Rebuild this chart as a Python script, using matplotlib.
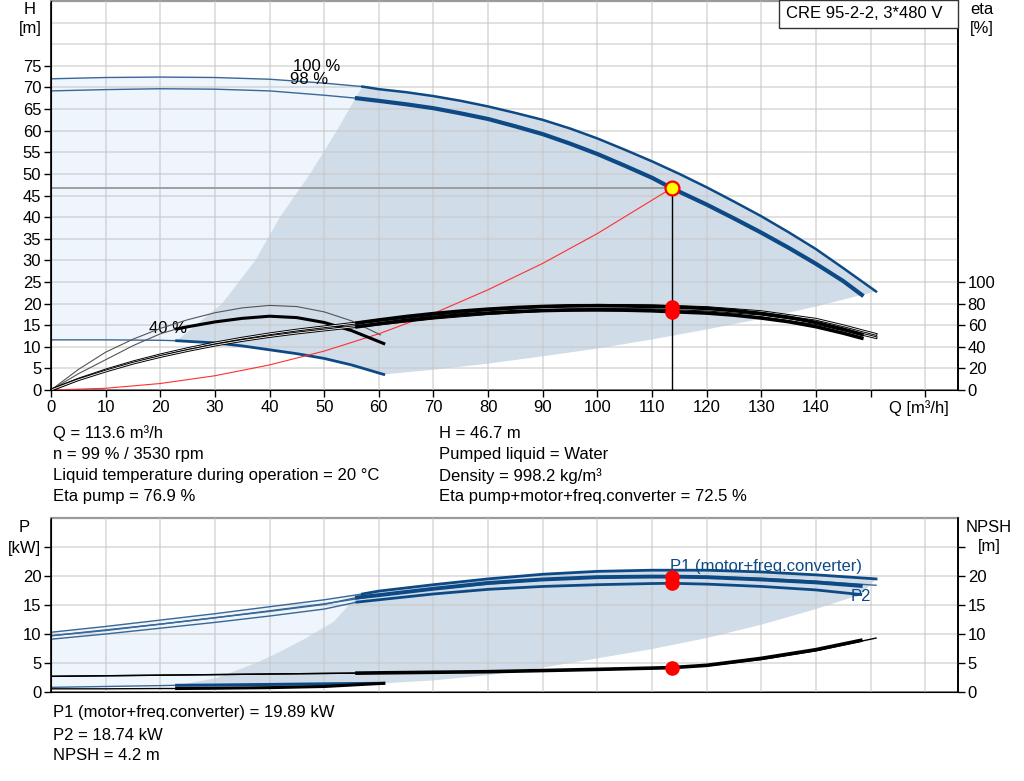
import numpy as np
import matplotlib.pyplot as plt
from matplotlib.patches import Rectangle

plt.rcParams['font.family'] = ['Liberation Sans', 'DejaVu Sans']
plt.rcParams['font.size'] = 12

# ---------------- data ----------------
# head curves, H [m] over Q [m3/h]
q_100 = np.array([0, 10, 20, 30, 40, 50, 57, 60, 65, 70, 75, 80, 85, 90, 95, 100, 105, 110, 115,
                  120, 125, 130, 135, 140, 145, 151])
h_100 = np.array([72.0, 72.3, 72.4, 72.3, 71.9, 71.0, 70.2, 69.6, 68.9, 68.0, 66.9, 65.6, 64.1, 62.5,
                  60.5, 58.2, 55.6, 52.9, 50.0, 46.9, 43.6, 40.2, 36.5, 32.6, 28.2, 22.8])

q_98 = np.array([0, 10, 20, 30, 40, 50, 56, 60, 65, 70, 75, 80, 85, 90, 95, 100, 105, 110, 113.6,
                 120, 125, 130, 135, 140, 145, 148.4])
h_98 = np.array([69.2, 69.5, 69.7, 69.6, 69.2, 68.2, 67.5, 66.9, 66.1, 65.2, 64.0, 62.7, 61.0, 59.2,
                 57.0, 54.6, 51.9, 49.1, 46.7, 42.9, 39.7, 36.4, 32.9, 29.2, 25.2, 22.0])

q_40 = np.array([0, 10, 20, 23, 30, 35, 40, 45, 50, 55, 60.9])
h_40 = np.array([11.6, 11.6, 11.5, 11.4, 10.9, 10.2, 9.3, 8.4, 7.3, 5.8, 3.6])

# borders of the operating area
q_minflow = np.array([23, 27, 31.3, 37.4, 41.9, 47.4, 52.3, 55.7, 57])
h_minflow = np.array([11.4, 15.5, 20, 30, 40, 50, 60, 67.5, 70.2])
q_lowedge = np.array([60.9, 70, 80, 90, 100, 110, 120, 130, 140, 148.4])
h_lowedge = np.array([3.6, 4.7, 6.1, 7.8, 9.6, 11.7, 14.0, 16.5, 19.3, 22.0])

# system curve
q_sys = np.array([0, 10, 20, 30, 40, 50, 60, 70, 80, 90, 100, 113.6])
h_sys = np.array([0, 0.4, 1.5, 3.3, 5.8, 9.0, 13.0, 17.7, 23.2, 29.3, 36.2, 46.7])

# efficiency curves, eta [%]
q_e100 = np.array([0, 5, 10, 15, 20, 25, 30, 35, 40, 45, 50, 60, 70, 80, 90, 100, 110, 120, 130,
                   140, 145, 151])
eta_p100 = np.array([0, 10, 18.5, 26, 32.5, 38.3, 43.5, 48, 52, 55.5, 58.5, 64.5, 70, 74.3, 77.2,
                     78.4, 78.0, 76.3, 72.5, 65.5, 59.5, 51.5])
eta_t100 = np.array([0, 9.5, 17.5, 24.8, 31, 36.5, 41.5, 45.8, 49.5, 52.7, 55.5, 61, 66.5, 70.7,
                     73.5, 74.6, 74.2, 72.3, 68.5, 61.5, 55.8, 48.5])
q_e98 = np.array([56, 60, 65, 70, 75, 80, 85, 90, 95, 100, 105, 110, 113.6, 120, 125, 130, 135,
                  140, 145, 148.4])
eta_p98 = np.array([62, 64.8, 68, 70.7, 73, 74.8, 76.3, 77.3, 77.9, 78, 77.8, 77.3, 76.9, 75.5,
                    73.5, 70.8, 67.3, 62.5, 56.3, 51.5])
eta_t98 = np.array([58.5, 61.3, 64.5, 67.2, 69.5, 71.2, 72.6, 73.5, 74, 74.1, 73.9, 73.3, 72.5,
                    71.2, 69.3, 66.6, 63.2, 58.6, 52.6, 48.0])
q_e40p = np.array([0, 5, 10, 15, 20, 25, 30, 35, 40, 45, 50, 55, 60.3])
eta_p40 = np.array([0, 19, 35, 47, 57, 65, 71.5, 76, 78.3, 77.2, 72.3, 64, 51])
q_e40t = np.array([0, 5, 10, 15, 20, 23, 25, 30, 35, 40, 45, 50, 55, 60.9])
eta_t40 = np.array([0, 15, 28, 41, 52, 56.5, 58.5, 63, 66.3, 68.3, 67, 62.5, 55, 43])

# power curves, P [kW]
q_p100 = np.array([0, 10, 20, 30, 40, 50, 57, 60, 70, 80, 90, 100, 110, 120, 130, 140, 151])
p1_100 = np.array([10.3, 11.3, 12.4, 13.5, 14.7, 15.9, 16.9, 17.4, 18.5, 19.5, 20.3, 20.8, 21.0,
                   21.0, 20.7, 20.2, 19.5])
p2_100 = np.array([9.7, 10.7, 11.7, 12.8, 14.0, 15.2, 16.2, 16.6, 17.7, 18.6, 19.3, 19.7, 19.9,
                   19.9, 19.6, 19.1, 18.4])
q_p98 = np.array([0, 10, 20, 30, 40, 50, 56, 60, 70, 80, 90, 100, 110, 113.6, 120, 130, 140, 148.2])
p1_98 = np.array([9.7, 10.6, 11.7, 12.8, 13.9, 15.1, 16.3, 16.7, 17.8, 18.8, 19.4, 19.8, 19.9,
                  19.89, 19.8, 19.4, 18.9, 18.3])
p2_98 = np.array([9.1, 10.0, 11.0, 12.0, 13.1, 14.3, 15.5, 15.9, 16.9, 17.7, 18.2, 18.5, 18.7,
                  18.74, 18.6, 18.2, 17.6, 16.8])
q_p40 = np.array([0, 10, 20, 23, 30, 40, 50, 60.9])
p1_40 = np.array([0.8, 0.95, 1.1, 1.15, 1.2, 1.3, 1.4, 1.5])

q_pmin = np.array([23, 30.3, 38, 42, 46.5, 51.7, 54.5, 57])
p_pmin = np.array([1.15, 2.4, 5.2, 7.0, 9.2, 12.1, 15.0, 16.9])
q_plow = np.array([60.9, 70, 80, 90, 100, 110, 120, 130, 140, 148.2])
p_plow = np.array([1.5, 2.0, 2.9, 4.2, 5.8, 7.4, 9.3, 11.6, 14.3, 16.8])

# NPSH [m]
q_n98 = np.array([0, 10, 20, 30, 40, 50, 56, 60, 70, 80, 90, 100, 113.6, 120, 130, 140, 148.2])
npsh_98 = np.array([2.7, 2.8, 2.9, 3.0, 3.1, 3.2, 3.25, 3.3, 3.4, 3.5, 3.7, 3.9, 4.2, 4.6, 5.8,
                    7.3, 8.9])
q_n100 = np.array([0, 20, 40, 60, 80, 100, 120, 130, 140, 151])
npsh_100 = np.array([2.7, 2.9, 3.1, 3.3, 3.5, 3.8, 4.5, 5.6, 7.1, 9.3])
q_n40 = np.array([0, 10, 20, 23, 30, 40, 50, 60.9])
npsh_40 = np.array([0.55, 0.55, 0.6, 0.6, 0.65, 0.75, 0.95, 1.5])

# duty point
q_duty = 113.6
h_duty = 46.7
eta_pump_duty = 76.9
eta_tot_duty = 72.5
p1_duty = 19.89
p2_duty = 18.74
npsh_duty = 4.2

x_ticks = list(range(0, 170, 10))
x_labels = [str(v) if v <= 140 else '' for v in x_ticks]

info_left = ['Q = 113.6 m³/h', 'n = 99 % / 3530 rpm',
             'Liquid temperature during operation = 20 °C', 'Eta pump = 76.9 %']
info_right = ['H = 46.7 m', 'Pumped liquid = Water', 'Density = 998.2 kg/m³',
              'Eta pump+motor+freq.converter = 72.5 %']
info_bottom = ['P1 (motor+freq.converter) = 19.89 kW', 'P2 = 18.74 kW', 'NPSH = 4.2 m']

BLUE = '#0d4a85'
THINBLUE = '#3a6796'
DARK_FILL = '#d0dce8'
LIGHT_FILL = '#eef5fc'
GRID = '#c8c8c8'

W, HP = 1024.0, 781.0


def fx(px):
    return px / W


def fy(py):
    return 1 - py / HP


def style_axes(a):
    a.set_xlim(0, 166)
    a.set_xticks(x_ticks)
    a.set_axisbelow(False)
    a.grid(True, which='both', color=GRID, alpha=0.7, lw=1.1)
    a.spines['top'].set_color('#9a9a9a')
    a.spines['top'].set_linewidth(1.6)
    for s in ['left', 'bottom', 'right']:
        a.spines[s].set_linewidth(1.2)
    a.tick_params(direction='out', length=5, width=1, pad=2)


fig = plt.figure(figsize=(10.24, 7.81), dpi=100)

# ====================== head / efficiency ======================
ax = fig.add_axes([fx(51), fy(390), fx(907), 389 / HP])
style_axes(ax)
ax.set_ylim(0, 90)
ax.set_yticks(range(0, 80, 5))
ax.set_yticks([80, 85], minor=True)
ax.tick_params(axis='y', which='minor', length=0)
ax.set_xticklabels(x_labels)

# operating area
m100 = q_100 >= 57
m40 = q_40 >= 23
ax.fill(np.concatenate([q_100[q_100 <= 57], q_minflow[::-1], q_40[q_40 <= 23][::-1]]),
        np.concatenate([h_100[q_100 <= 57], h_minflow[::-1], h_40[q_40 <= 23][::-1]]),
        color=LIGHT_FILL, lw=0, zorder=1)
ax.fill(np.concatenate([q_lowedge, q_100[m100][::-1], q_minflow[::-1], q_40[m40]]),
        np.concatenate([h_lowedge, h_100[m100][::-1], h_minflow[::-1], h_40[m40]]),
        color=DARK_FILL, lw=0, zorder=1)

# head curves
ax.plot(q_100[q_100 <= 57], h_100[q_100 <= 57], color=THINBLUE, lw=1.0, zorder=3)
ax.plot(q_100[m100], h_100[m100], color=BLUE, lw=1.8, zorder=3)
ax.plot(q_98[q_98 <= 56], h_98[q_98 <= 56], color=THINBLUE, lw=1.0, zorder=3)
ax.plot(q_98[q_98 >= 56], h_98[q_98 >= 56], color=BLUE, lw=3.0, zorder=3)
ax.plot(q_40[q_40 <= 23], h_40[q_40 <= 23], color=THINBLUE, lw=1.0, zorder=3)
ax.plot(q_40[m40], h_40[m40], color=BLUE, lw=2.0, zorder=3)

ax.plot(q_sys, h_sys, color='#ff3030', lw=0.8, zorder=3)
ax.plot([0, q_duty], [h_duty, h_duty], color='#999999', lw=1.3, zorder=3)
ax.plot([q_duty, q_duty], [0, h_duty], color='black', lw=1.0, zorder=3)
ax.plot([q_duty], [h_duty], 'o', ms=10, mfc='#ffff00', mec='#ff0000', mew=1.6, zorder=6)

ax.text(48.7, 74.8, '100 %', ha='center', va='center')
ax.text(47.3, 71.8, '98 %', ha='center', va='center')
ax.text(21.4, 14.3, '40 %', ha='center', va='center')

axr = ax.twinx()
axr.set_ylim(0, 360)
axr.set_yticks(range(0, 120, 20))
axr.tick_params(direction='out', length=5, width=1, pad=2)
axr.spines['top'].set_visible(False)
axr.spines['right'].set_linewidth(1.2)

axr.plot(q_e40p, eta_p40, color='#555555', lw=0.8)
axr.plot(q_e40t[q_e40t <= 23], eta_t40[q_e40t <= 23], color='#555555', lw=0.8)
axr.plot(q_e40t[q_e40t >= 23], eta_t40[q_e40t >= 23], color='black', lw=2.2)
for eta in (eta_p100, eta_t100):
    axr.plot(q_e100, eta, color='black', lw=2.0)
    axr.plot(q_e100, eta, color='white', lw=0.6)
axr.plot(q_e98, eta_p98, color='black', lw=2.6)
axr.plot(q_e98, eta_t98, color='black', lw=2.6)
axr.plot([q_duty, q_duty], [eta_pump_duty, eta_tot_duty], 'o', ms=9.5, color='#ff0000', zorder=6)

# ====================== power / NPSH ======================
bx = fig.add_axes([fx(51), fy(692), fx(907), 174 / HP])
style_axes(bx)
bx.set_ylim(0, 30)
bx.set_yticks(range(0, 30, 5))
bx.set_yticklabels(['0', '5', '10', '15', '20', ''])
bx.set_xticklabels([])
bx.tick_params(axis='x', length=0)

mp = q_p100 >= 57
bx.fill(np.concatenate([q_p100[q_p100 <= 57], q_pmin[::-1], q_p40[q_p40 <= 23][::-1]]),
        np.concatenate([p1_100[q_p100 <= 57], p_pmin[::-1], p1_40[q_p40 <= 23][::-1]]),
        color=LIGHT_FILL, lw=0, zorder=1)
bx.fill(np.concatenate([q_plow, q_p100[mp][::-1], q_pmin[::-1], q_p40[q_p40 >= 23]]),
        np.concatenate([p_plow, p1_100[mp][::-1], p_pmin[::-1], p1_40[q_p40 >= 23]]),
        color=DARK_FILL, lw=0, zorder=1)

for p in (p1_100, p2_100):
    bx.plot(q_p100[q_p100 <= 57], p[q_p100 <= 57], color=THINBLUE, lw=1.0, zorder=3)
bx.plot(q_p100[mp], p1_100[mp], color=BLUE, lw=2.0, zorder=3)
bx.plot(q_p100[mp], p2_100[mp], color=THINBLUE, lw=1.0, zorder=3)
for p, lw in ((p1_98, 2.8), (p2_98, 2.0)):
    bx.plot(q_p98[q_p98 <= 56], p[q_p98 <= 56], color=THINBLUE, lw=1.0, zorder=3)
    bx.plot(q_p98[q_p98 >= 56], p[q_p98 >= 56], color=BLUE, lw=lw, zorder=3)
bx.plot(q_p40[q_p40 <= 23], p1_40[q_p40 <= 23], color=THINBLUE, lw=1.0, zorder=3)
bx.plot(q_p40[q_p40 >= 23], p1_40[q_p40 >= 23], color=BLUE, lw=2.2, zorder=3)
bx.plot([q_duty, q_duty], [p1_duty, p2_duty], 'o', ms=9.5, color='#ff0000', zorder=6)

bx.text(q_duty - 0.3, 21.6, 'P1 (motor+freq.converter)', color=BLUE, ha='left', va='center')
bx.text(146.3, 16.4, 'P2', color=BLUE, ha='left', va='center')

bxr = bx.twinx()
bxr.set_ylim(0, 30)
bxr.set_yticks(range(0, 30, 5))
bxr.set_yticklabels(['0', '5', '10', '15', '20', ''])
bxr.tick_params(direction='out', length=5, width=1, pad=2)
bxr.spines['top'].set_visible(False)
bxr.spines['right'].set_linewidth(1.2)
bxr.plot(q_n100, npsh_100, color='black', lw=1.0)
bxr.plot(q_n98[q_n98 <= 56], npsh_98[q_n98 <= 56], color='black', lw=1.0)
bxr.plot(q_n98[q_n98 >= 56], npsh_98[q_n98 >= 56], color='black', lw=2.6)
bxr.plot(q_n40[q_n40 <= 23], npsh_40[q_n40 <= 23], color='black', lw=1.0)
bxr.plot(q_n40[q_n40 >= 23], npsh_40[q_n40 >= 23], color='black', lw=2.2)
bxr.plot([q_duty], [npsh_duty], 'o', ms=9.5, color='#ff0000', zorder=6)

# ====================== texts ======================
fig.text(fx(30), fy(10), 'H', ha='center', va='center')
fig.text(fx(30), fy(29), '[m]', ha='center', va='center')
fig.text(fx(982), fy(10), 'eta', ha='center', va='center')
fig.text(fx(982), fy(29), '[%]', ha='center', va='center')
fig.text(fx(919), fy(408), 'Q [m³/h]', ha='center', va='center')
fig.text(fx(24), fy(527), 'P', ha='center', va='center')
fig.text(fx(24), fy(548), '[kW]', ha='center', va='center')
fig.text(fx(989), fy(527), 'NPSH', ha='center', va='center')
fig.text(fx(989), fy(547), '[m]', ha='center', va='center')

fig.patches.append(Rectangle((fx(779), fy(28)), fx(179), 28 / HP, transform=fig.transFigure,
                             facecolor='white', edgecolor='#333333', lw=1.0, zorder=5))
fig.text(fx(786), fy(14), 'CRE 95-2-2, 3*480 V', ha='left', va='center', zorder=6)

for yl, t in zip([433, 454, 476, 497], info_left):
    fig.text(fx(53), fy(yl), t, ha='left', va='center')
for yl, t in zip([433, 454, 476, 497], info_right):
    fig.text(fx(439), fy(yl), t, ha='left', va='center')
for yl, t in zip([713, 735, 756], info_bottom):
    fig.text(fx(53), fy(yl), t, ha='left', va='center')

fig.savefig('out.png', dpi=100)
